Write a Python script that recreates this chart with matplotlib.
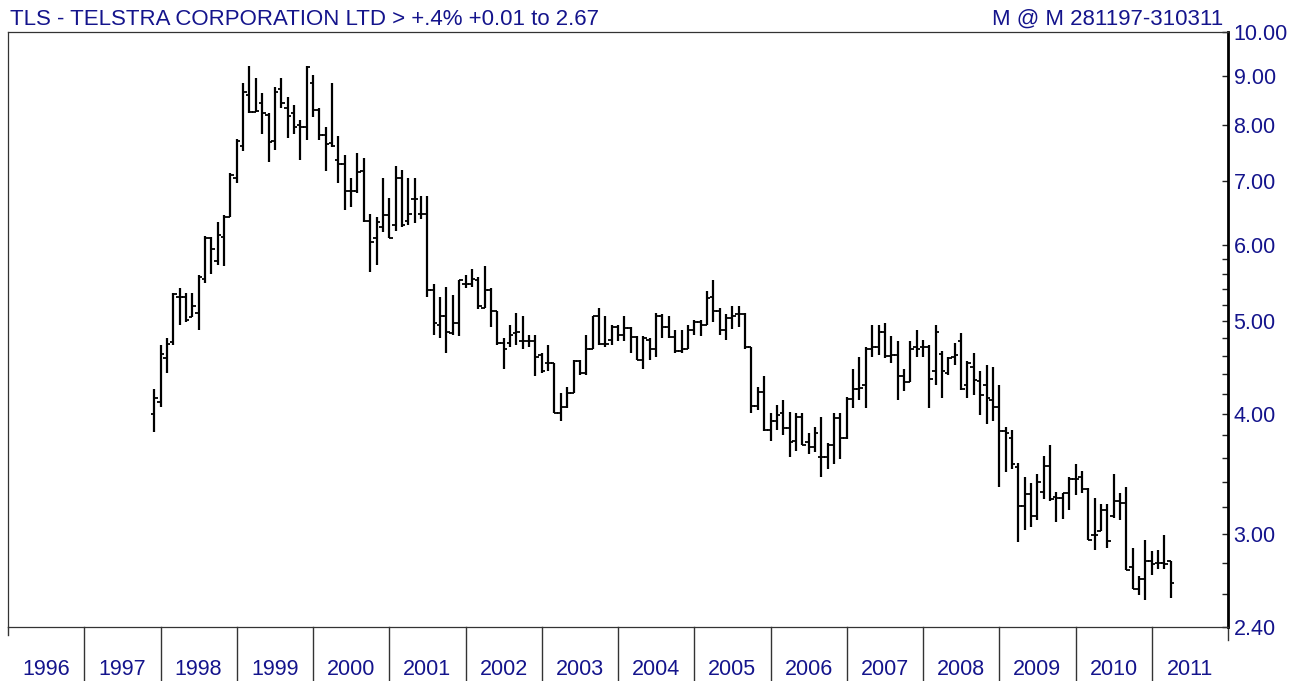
import numpy as np
import matplotlib
matplotlib.use("Agg")
import matplotlib.pyplot as plt
import matplotlib.ticker as mticker
import matplotlib.transforms as mtransforms

plt.rcParams['font.family'] = ['Liberation Sans', 'DejaVu Sans']

# monthly bars, first one is Nov 1997
first_year = 1997
first_month = 11

opens = [
    4.00, 4.12,
    4.57, 4.75, 5.30, 5.30, 5.05, 5.10, 5.53, 6.10, 5.77, 6.11, 6.42, 7.05,
    7.60, 8.60, 8.26, 8.43, 8.20, 7.70, 8.73, 8.33, 8.23, 8.00, 7.97, 8.84,
    8.29, 7.81, 7.66, 7.36, 7.28, 6.83, 6.83, 7.16, 6.35, 6.10, 6.27, 6.44,
    6.30, 7.04, 6.35, 6.70, 6.47, 6.47, 5.39, 4.95, 5.06, 4.86, 4.97, 5.47,
    5.47, 5.52, 5.16, 5.39, 5.12, 4.74, 4.74, 4.86, 4.76, 4.76, 4.76, 4.61,
    4.52, 4.52, 4.01, 4.07, 4.21, 4.54, 4.41, 4.68, 5.06, 4.73, 4.78, 4.93,
    4.84, 4.92, 4.81, 4.55, 4.78, 4.68, 5.06, 4.93, 4.81, 4.65, 4.67, 4.89,
    4.99, 4.95, 5.30, 5.12, 4.89, 5.04, 5.08, 5.08, 4.70, 4.08, 4.22, 3.85,
    3.93, 4.01, 3.87, 3.75, 3.97, 3.74, 3.70, 3.61, 3.61, 3.71, 3.96, 3.78,
    4.15, 4.25, 4.29, 4.68, 4.70, 4.87, 4.60, 4.61, 4.38, 4.32, 4.70, 4.70,
    4.70, 4.43, 4.62, 4.41, 4.59, 4.76, 4.29, 4.48, 4.33, 4.29, 4.14, 4.07,
    3.84, 3.78, 3.52, 3.21, 3.30, 3.13, 3.32, 3.53, 3.28, 3.27, 3.31, 3.42,
    3.44, 3.34, 2.99, 3.02, 3.18, 3.13, 3.25, 3.23, 2.77, 2.63, 2.69, 2.81,
    2.80, 2.80, 2.81,
]
highs = [
    4.25, 4.72,
    4.80, 5.35, 5.41, 5.35, 5.35, 5.58, 6.13, 6.11, 6.34, 6.44, 7.13, 7.74,
    8.84, 9.22, 8.95, 8.63, 8.23, 8.77, 8.95, 8.56, 8.39, 8.10, 9.22, 9.02,
    8.33, 7.97, 8.84, 7.80, 7.45, 7.04, 7.48, 7.40, 6.47, 6.42, 7.04, 6.72,
    7.25, 7.18, 7.04, 7.04, 6.75, 6.75, 5.47, 5.30, 5.43, 5.32, 5.52, 5.58,
    5.67, 5.56, 5.70, 5.41, 5.12, 4.80, 4.95, 5.10, 5.06, 4.84, 4.84, 4.63,
    4.72, 4.52, 4.21, 4.27, 4.55, 4.55, 4.84, 5.06, 5.16, 5.06, 4.95, 4.95,
    5.06, 4.93, 4.82, 4.82, 4.80, 5.10, 5.08, 5.06, 4.89, 4.89, 4.95, 5.01,
    5.01, 5.37, 5.52, 5.16, 5.08, 5.18, 5.18, 5.10, 4.70, 4.27, 4.38, 4.01,
    4.09, 4.14, 4.02, 4.01, 4.01, 3.82, 3.88, 3.97, 3.73, 4.01, 4.01, 4.17,
    4.46, 4.59, 4.70, 4.95, 4.95, 4.97, 4.82, 4.76, 4.46, 4.76, 4.89, 4.78,
    4.72, 4.95, 4.65, 4.59, 4.74, 4.86, 4.54, 4.63, 4.43, 4.50, 4.48, 4.29,
    3.88, 3.85, 3.56, 3.44, 3.39, 3.46, 3.62, 3.71, 3.32, 3.31, 3.44, 3.55,
    3.49, 3.35, 3.27, 3.22, 3.22, 3.46, 3.31, 3.36, 2.90, 2.71, 2.96, 2.88,
    2.89, 2.99, 2.81,
]
lows = [
    3.83, 4.07,
    4.41, 4.72, 4.95, 4.99, 5.05, 4.89, 5.48, 5.60, 5.72, 5.70, 6.42, 6.96,
    7.51, 8.23, 8.26, 7.83, 7.33, 7.54, 8.33, 7.76, 7.83, 7.36, 7.71, 8.16,
    7.71, 7.16, 7.59, 6.96, 6.52, 6.57, 6.80, 6.34, 5.62, 5.72, 6.19, 6.10,
    6.20, 6.27, 6.29, 6.32, 6.38, 5.30, 4.84, 4.80, 4.63, 4.84, 4.82, 5.41,
    5.43, 5.14, 5.16, 4.93, 4.72, 4.46, 4.70, 4.72, 4.68, 4.70, 4.38, 4.41,
    4.43, 4.01, 3.93, 4.06, 4.21, 4.39, 4.39, 4.67, 4.72, 4.70, 4.72, 4.76,
    4.76, 4.63, 4.55, 4.46, 4.55, 4.59, 4.80, 4.80, 4.63, 4.63, 4.67, 4.84,
    4.82, 4.95, 4.99, 4.84, 4.78, 4.91, 4.93, 4.68, 4.01, 4.04, 3.84, 3.75,
    3.85, 3.80, 3.61, 3.66, 3.71, 3.63, 3.65, 3.44, 3.51, 3.55, 3.59, 3.77,
    4.06, 4.14, 4.06, 4.59, 4.61, 4.57, 4.52, 4.14, 4.23, 4.32, 4.59, 4.59,
    4.06, 4.29, 4.16, 4.39, 4.50, 4.24, 4.16, 4.19, 3.99, 3.91, 3.93, 3.36,
    3.48, 3.51, 2.94, 3.03, 3.05, 3.10, 3.26, 3.25, 3.09, 3.11, 3.18, 3.29,
    3.31, 2.96, 2.89, 3.02, 2.90, 3.12, 3.10, 2.75, 2.63, 2.59, 2.56, 2.72,
    2.76, 2.76, 2.57,
]
closes = [
    4.16, 4.62,
    4.73, 5.33, 5.30, 5.01, 5.18, 5.56, 6.10, 5.94, 6.14, 6.42, 7.10, 7.70,
    8.66, 8.26, 8.27, 8.23, 7.68, 8.66, 8.43, 8.18, 7.97, 7.97, 9.20, 8.29,
    7.81, 7.65, 7.61, 7.28, 6.83, 6.83, 7.14, 6.35, 6.05, 6.34, 6.44, 6.10,
    7.04, 6.29, 6.47, 6.70, 6.47, 5.39, 4.98, 5.06, 4.87, 4.97, 5.51, 5.47,
    5.53, 5.18, 5.39, 5.12, 4.74, 4.68, 4.84, 4.87, 4.76, 4.76, 4.59, 4.43,
    4.52, 4.01, 4.07, 4.21, 4.54, 4.41, 4.68, 5.06, 4.73, 4.73, 4.93, 4.84,
    4.92, 4.81, 4.55, 4.80, 4.68, 5.06, 4.93, 4.81, 4.65, 4.67, 4.89, 4.99,
    4.95, 5.28, 5.12, 4.89, 5.04, 5.06, 5.08, 4.70, 4.08, 4.22, 3.85, 3.93,
    3.99, 3.87, 3.74, 3.97, 3.71, 3.70, 3.82, 3.61, 3.71, 3.96, 3.78, 4.15,
    4.25, 4.26, 4.68, 4.70, 4.87, 4.60, 4.61, 4.38, 4.32, 4.68, 4.68, 4.70,
    4.35, 4.87, 4.43, 4.57, 4.61, 4.25, 4.52, 4.34, 4.19, 4.16, 4.07, 3.84,
    3.82, 3.55, 3.21, 3.30, 3.13, 3.40, 3.53, 3.26, 3.27, 3.31, 3.42, 3.42,
    3.34, 2.96, 2.99, 3.18, 2.95, 3.25, 3.23, 2.75, 2.63, 2.69, 2.81, 2.79,
    2.80, 2.79, 2.67,
]

year_labels = [str(y) for y in range(1996, 2012)]
price_ticks = [2.40, 3.00, 4.00, 5.00, 6.00, 7.00, 8.00, 9.00, 10.00]
minor_ticks = [2.6, 2.8, 3.2, 3.4, 3.6, 3.8, 4.2, 4.4, 4.6, 4.8, 5.2, 5.4, 5.6, 5.8]

title_left = "TLS - TELSTRA CORPORATION LTD > +.4% +0.01 to 2.67"
title_right = "M @ M 281197-310311"

navy = '#14148c'
W, H = 1298, 681

# month-end x position in years
xs = []
yr, mo = first_year, first_month
for i in range(len(opens)):
    xs.append(yr + mo / 12)
    mo += 1
    if mo > 12:
        mo = 1
        yr += 1
xs = np.array(xs)

fig = plt.figure(figsize=(W / 100, H / 100), dpi=100)
ax = fig.add_axes([8 / W, 54 / H, 1220 / W, 595 / H])

tick_w = 0.045
ax.vlines(xs, lows, highs, color='black', lw=1.6)
ax.hlines(opens, xs - tick_w, xs, color='black', lw=1.3)
ax.hlines(closes, xs, xs + tick_w, color='black', lw=1.3)

ax.set_yscale('log')
ax.set_ylim(2.4, 10)
ax.set_xlim(1996, 2012)
ax.set_xticks([])

ax.yaxis.tick_right()
ax.yaxis.set_major_locator(mticker.FixedLocator(price_ticks))
ax.yaxis.set_major_formatter(mticker.FormatStrFormatter('%.2f'))
ax.yaxis.set_minor_locator(mticker.FixedLocator(minor_ticks))
ax.yaxis.set_minor_formatter(mticker.NullFormatter())
ax.tick_params(axis='y', which='both', direction='in', length=4, width=1,
               color='#222222', labelcolor=navy, labelsize=15.5, pad=4)

for side in ['top', 'left', 'bottom']:
    ax.spines[side].set_linewidth(0.9)
    ax.spines[side].set_color('#333333')
ax.spines['right'].set_linewidth(2)
ax.spines['right'].set_color('black')

# year dividers and labels under the chart
trans = mtransforms.blended_transform_factory(ax.transData, ax.transAxes)
for y in range(1997, 2012):
    ax.plot([y, y], [0, -0.1], transform=trans, color='#333333', lw=1, clip_on=False)
ax.plot([1996, 1996], [0, -8 / 595], transform=trans, color='#333333', lw=1, clip_on=False)
ax.plot([2012, 2012], [0, -13 / 595], transform=trans, color='#333333', lw=1, clip_on=False)
for i, lab in enumerate(year_labels):
    ax.text(1996 + i + 0.5, -0.0706, lab, transform=trans, ha='center', va='center',
            fontsize=15.5, color=navy)

fig.text(10 / W, 1 - 25 / H, title_left, ha='left', va='baseline', fontsize=16, color=navy)
fig.text(1223 / W, 1 - 25 / H, title_right, ha='right', va='baseline', fontsize=16, color=navy)

fig.savefig('out.png', dpi=100)
